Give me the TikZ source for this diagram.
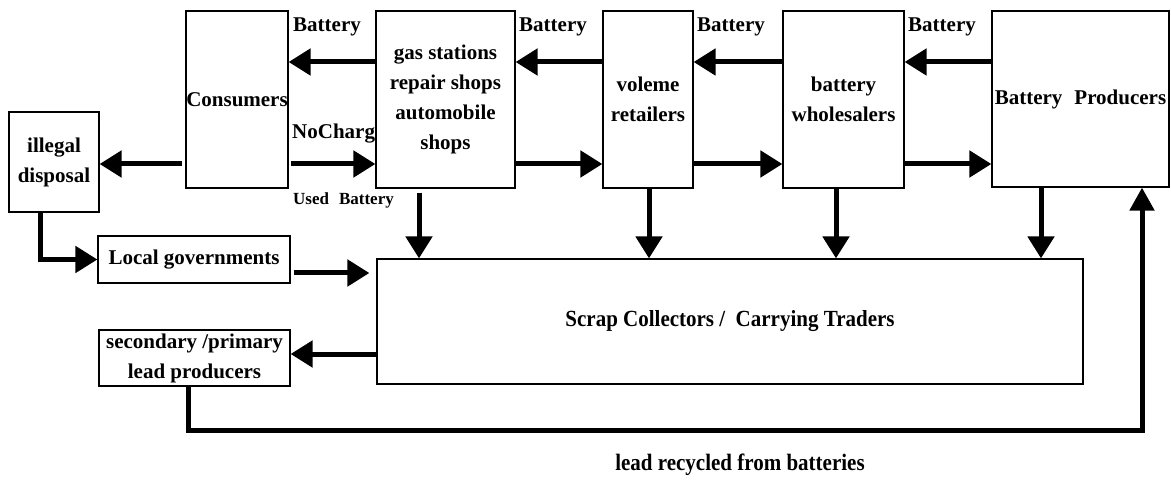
\documentclass[tikz,border=0pt]{standalone}
\usepackage{fontspec}
\setmainfont{Liberation Serif}
\usetikzlibrary{arrows.meta}
\begin{document}
\begin{tikzpicture}[x=1pt,y=-1pt,
  box/.style={draw, line width=1.2pt, fill=white, inner sep=0pt, align=center,
              font=\bfseries\fontsize{21}{30}\selectfont},
  lbl/.style={inner sep=0pt, font=\bfseries\fontsize{21}{25}\selectfont},
  small/.style={inner sep=0pt, font=\bfseries\fontsize{17}{20}\selectfont},
  flow/.style={line width=5pt, -{Triangle[length=22pt,width=26pt]}},
  ret/.style={line width=5pt, line join=miter, -{Triangle[length=23pt,width=24pt]}}]
\useasboundingbox (0,0) rectangle (1171,481);

% boxes
\node[box, minimum width=102pt, minimum height=177pt] (cons) at (237,99.5) {Consumers};
\node[box, minimum width=90pt, minimum height=100pt] (ill) at (54,162) {illegal\\disposal};
\node[box, minimum width=139pt, minimum height=177pt] (gas) at (445.5,99.5) {gas stations\\repair shops\\automobile\\shops};
\node[box, minimum width=90pt, minimum height=177pt] (vol) at (648,99.5) {voleme\\retailers};
\node[box, minimum width=121pt, minimum height=177pt] (whs) at (843.5,99.5) {battery\\wholesalers};
\node[box, minimum width=177pt, minimum height=176pt] (prod) at (1080.5,99) {Battery\hspace{12pt}Producers};
\node[box, minimum width=192pt, minimum height=47pt] (lg) at (194,259.5) {Local governments};
\node[box, minimum width=191pt, minimum height=56pt] (sec) at (194.5,358) {secondary /primary\\lead producers};
\node[box, minimum width=706pt, minimum height=125pt] (scrap) at (730,321.5)
  {\raisebox{0pt}{\scalebox{1}[1.1]{Scrap Collectors /\ \ Carrying Traders}}};

% row coordinates
\coordinate (top) at (0,62);
\coordinate (bot) at (0,164);
\coordinate (lgy) at (0,273);
\coordinate (sy) at (0,354);
\coordinate (dg) at (419,0);
\coordinate (dv) at (649,0);
\coordinate (dw) at (836,0);
\coordinate (dp) at (1041,0);
\coordinate (ilx) at (40,0);
\coordinate (fbL) at (188,430);
\coordinate (fbR) at (1142,430);

% leftward battery flow
\draw[flow] (gas.west |- top) -- (cons.east |- top);
\draw[flow] (vol.west |- top) -- (gas.east |- top);
\draw[flow] (whs.west |- top) -- (vol.east |- top);
\draw[flow] (prod.west |- top) -- (whs.east |- top);

% rightward used battery flow
\draw[flow, shorten <=2pt] (cons.east |- bot) -- (gas.west |- bot);
\draw[flow] (gas.east |- bot) -- (vol.west |- bot);
\draw[flow] (vol.east |- bot) -- (whs.west |- bot);
\draw[flow] (whs.east |- bot) -- (prod.west |- bot);
\draw[flow, shorten <=3pt] (cons.west |- bot) -- (ill.east |- bot);

% down to scrap
\draw[flow, shorten <=4pt] (gas.south -| dg) -- (scrap.north -| dg);
\draw[flow] (vol.south -| dv) -- (scrap.north -| dv);
\draw[flow] (whs.south -| dw) -- (scrap.north -| dw);
\draw[flow] (prod.south -| dp) -- (scrap.north -| dp);

% illegal -> local governments -> scrap
\draw[flow, line join=miter] (ill.south -| ilx) |- (lg.west);
\draw[flow, shorten <=3pt, shorten >=7pt] (lg.east |- lgy) -- (scrap.west |- lgy);
\draw[flow] (scrap.west |- sy) -- (sec.east |- sy);

% return loop
\draw[ret] (sec.south -| fbL) -- (fbL) -- (fbR) -- (prod.south -| fbR);

% labels
\node[lbl, anchor=base west] (b1) at (293,32) {Battery};
\node[lbl, anchor=base west] (b2) at (519,32) {Battery};
\node[lbl, anchor=base west] (b3) at (697,32) {Battery};
\node[lbl, anchor=base west] (b4) at (908,32) {Battery};
\node[lbl, anchor=base west] (nc) at (292,139) {NoCharg};
\node[small, anchor=base west] (ub) at (293,205) {Used\hspace{10pt}Battery};
\node[lbl, anchor=base] (lr) at (740,470) {\scalebox{1}[1.12]{lead recycled from batteries}};
\end{tikzpicture}
\end{document}
